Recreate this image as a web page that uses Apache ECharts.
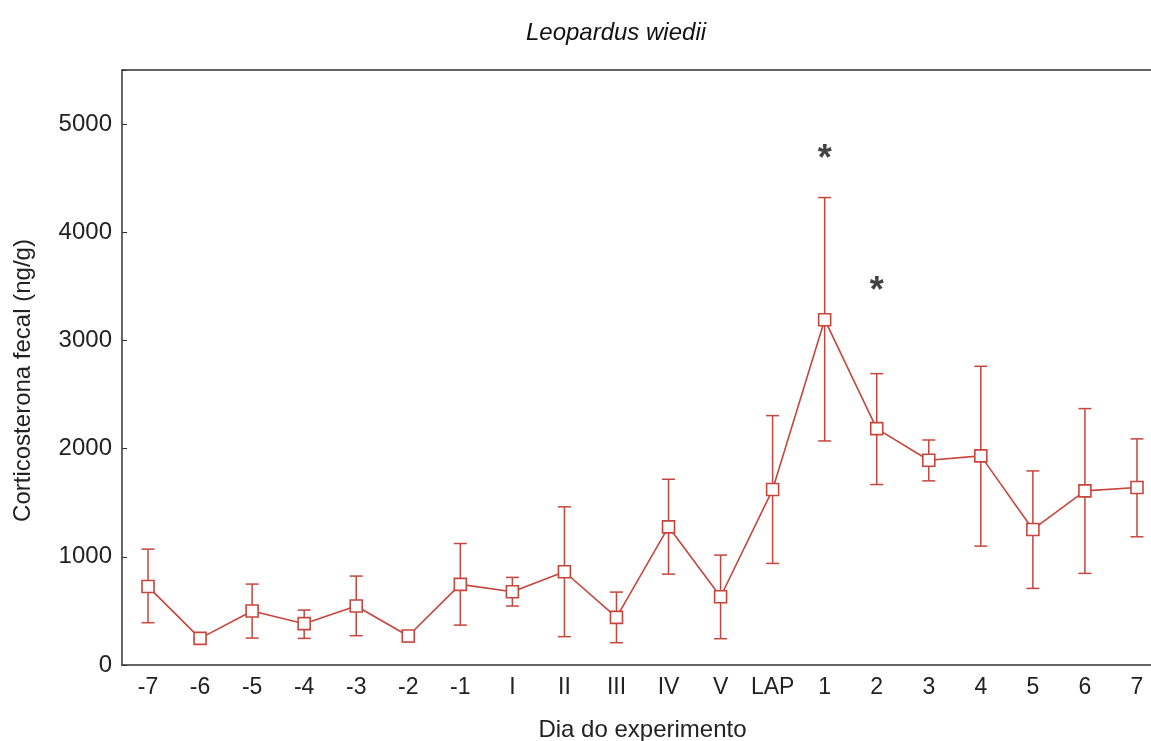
<!DOCTYPE html>
<html>
<head>
<meta charset="utf-8">
<script src="https://cdn.jsdelivr.net/npm/echarts@6/dist/echarts.min.js"></script>
<style>
html,body{margin:0;padding:0;background:#fff;overflow:hidden;}
#chart{width:1151px;height:741px;}
</style>
</head>
<body>
<div id="chart"></div>
<script>
var categories = ['-7','-6','-5','-4','-3','-2','-1','I','II','III','IV','V','LAP','1','2','3','4','5','6','7'];
var means  = [725, 246, 499, 382, 545, 268, 745, 677, 862, 440, 1277, 631, 1622, 3192, 2185, 1893, 1933, 1253, 1610, 1641];
var lowers = [391, 246, 249, 246, 271, 215, 369, 545, 262, 206, 840, 243, 939, 2071, 1668, 1702, 1099, 708, 847, 1185];
var uppers = [1071, 246, 748, 508, 822, 305, 1123, 810, 1462, 674, 1717, 1016, 2305, 4321, 2693, 2080, 2761, 1794, 2370, 2090];
var yTicks = [0, 1000, 2000, 3000, 4000, 5000];
var asterisks = [['1', 4720], ['2', 3500]];

var red = '#c6453c';
var font = 'Liberation Sans, Arial, sans-serif';
var errData = categories.map(function (c, i) { return [i, lowers[i], uppers[i]]; });

var chart = echarts.init(document.getElementById('chart'), null, {renderer: 'canvas'});
chart.setOption({
  animation: false,
  backgroundColor: '#fff',
  title: {
    text: 'Leopardus wiedii',
    left: 611, top: 16, textAlign: 'center',
    textStyle: {fontFamily: font, fontStyle: 'italic', fontWeight: 'normal', fontSize: 24, color: '#111'}
  },
  grid: {left: 122, right: -12, top: 70, bottom: 76, containLabel: false, outerBoundsMode: 'none'},
  xAxis: [{
    type: 'category', data: categories, position: 'bottom',
    name: 'Dia do experimento', nameLocation: 'middle', nameGap: 53,
    nameTextStyle: {fontFamily: font, fontSize: 24, color: '#222'},
    axisLine: {lineStyle: {color: '#333', width: 1.5}},
    axisTick: {inside: true, length: 5, lineStyle: {color: '#333'}},
    axisLabel: {fontFamily: font, fontSize: 23, color: '#222', margin: 11, interval: 0, hideOverlap: false},
    splitLine: {show: false}
  }, {
    type: 'category', data: categories, position: 'top',
    axisLine: {lineStyle: {color: '#333', width: 1.5}},
    axisTick: {inside: true, length: 5, lineStyle: {color: '#333'}, interval: 0},
    axisLabel: {show: false},
    splitLine: {show: false}
  }],
  yAxis: {
    type: 'value', min: 0, max: 5500, interval: 1000,
    name: 'Corticosterona fecal (ng/g)', nameLocation: 'middle', nameGap: 87, nameRotate: 90,
    nameTextStyle: {fontFamily: font, fontSize: 24, color: '#222', padding: [0, 26, 0, 0]},
    axisLine: {show: true, lineStyle: {color: '#333', width: 1.5}},
    axisTick: {show: true, inside: true, length: 5, lineStyle: {color: '#333'}},
    axisLabel: {fontFamily: font, fontSize: 24, color: '#222', margin: 10,
      formatter: function (v) { return yTicks.indexOf(v) >= 0 ? String(v) : ''; }},
    splitLine: {show: false}
  },
  series: [{
    type: 'custom',
    xAxisIndex: 0,
    data: errData,
    z: 2,
    renderItem: function (params, api) {
      var x = api.value(0);
      var lo = api.coord([x, api.value(1)]);
      var hi = api.coord([x, api.value(2)]);
      var hw = 6.5;
      var st = {stroke: red, lineWidth: 1.5};
      return {type: 'group', children: [
        {type: 'line', shape: {x1: lo[0], y1: lo[1], x2: hi[0], y2: hi[1]}, style: st},
        {type: 'line', shape: {x1: lo[0] - hw, y1: lo[1], x2: lo[0] + hw, y2: lo[1]}, style: st},
        {type: 'line', shape: {x1: hi[0] - hw, y1: hi[1], x2: hi[0] + hw, y2: hi[1]}, style: st}
      ]};
    }
  }, {
    type: 'line',
    xAxisIndex: 0,
    data: means,
    z: 3,
    symbol: 'rect', symbolSize: 12,
    lineStyle: {color: red, width: 1.6},
    itemStyle: {color: '#fff', borderColor: red, borderWidth: 1.6}
  }, {
    type: 'scatter',
    xAxisIndex: 0,
    data: asterisks,
    symbolSize: 0,
    label: {show: true, position: 'inside', formatter: '*', fontFamily: font,
      fontSize: 36, fontWeight: 'bold', color: '#111', offset: [0, 6]}
  }]
});
</script>
</body>
</html>
